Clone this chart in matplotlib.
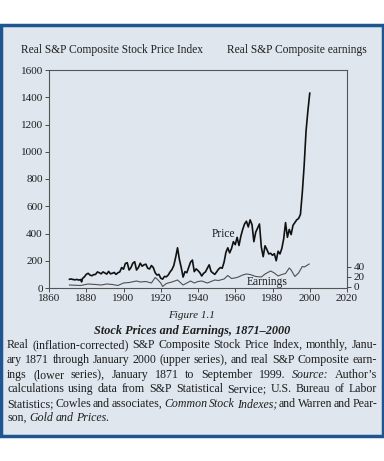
import matplotlib
matplotlib.use("Agg")
import matplotlib.pyplot as plt
from matplotlib.patches import Rectangle

# Real S&P Composite price index
price_years = [1871, 1872, 1873, 1874, 1875, 1876, 1877, 1877.5, 1878, 1879, 1880, 1881, 1882, 1883,
               1884, 1885, 1886, 1887, 1888, 1889, 1890, 1891, 1892, 1893, 1894, 1895, 1896,
               1897, 1898, 1899, 1900, 1901, 1902, 1903, 1904, 1905, 1906, 1907, 1908, 1909,
               1910, 1911, 1912, 1913, 1914, 1915, 1916, 1917, 1918, 1919, 1920, 1921, 1922,
               1923, 1924, 1925, 1926, 1927, 1928, 1929, 1930, 1931, 1932, 1933, 1934, 1935,
               1936, 1937, 1938, 1939, 1940, 1941, 1942, 1943, 1944, 1945, 1946, 1947, 1948,
               1949, 1950, 1951, 1952, 1953, 1954, 1955, 1956, 1957, 1958, 1959, 1960, 1961,
               1962, 1963, 1964, 1965, 1966, 1967, 1968, 1969, 1970, 1971, 1972, 1973, 1974,
               1975, 1976, 1977, 1978, 1979, 1980, 1981, 1982, 1983, 1984, 1985, 1986, 1987,
               1988, 1989, 1990, 1991, 1992, 1993, 1994, 1995, 1996, 1997, 1998, 1999, 2000]
price_vals = [64, 66, 62, 60, 63, 58, 62, 45, 70, 82, 100, 108, 95, 90,
              98, 100, 118, 112, 104, 118, 110, 102, 122, 104, 108, 114, 100,
              112, 118, 150, 138, 180, 186, 132, 150, 182, 193, 132, 150, 182,
              160, 170, 175, 145, 140, 165, 150, 112, 95, 100, 72, 65, 85,
              82, 95, 118, 135, 165, 225, 295, 210, 150, 80, 120, 112, 150,
              190, 205, 120, 140, 128, 112, 88, 108, 118, 145, 170, 122, 110,
              100, 118, 138, 150, 145, 190, 262, 295, 258, 290, 340, 318, 372,
              312, 380, 430, 470, 490, 448, 500, 465, 340, 410, 440, 470, 300,
              230, 310, 282, 250, 255, 240, 252, 200, 270, 250, 290, 360, 480,
              372, 430, 392, 460, 480, 500, 510, 540, 700, 900, 1150, 1300, 1430]

# Real S&P Composite earnings
earn_years = [1871, 1877, 1881, 1885, 1888, 1891, 1894, 1897, 1900, 1903, 1907, 1909, 1912,
              1915, 1917, 1918, 1920, 1921, 1923, 1926, 1929, 1932, 1934, 1936, 1938, 1940,
              1942, 1945, 1949, 1951, 1954, 1956, 1958, 1961, 1964, 1966, 1968, 1971, 1974,
              1976, 1979, 1981, 1983, 1985, 1987, 1989, 1990, 1992, 1994, 1996, 1997, 1998, 1999.7]
earn_vals = [4, 3, 6, 5, 4, 6, 5, 3, 8, 9, 12, 10, 11, 8, 19, 16, 8, 1, 7, 10, 14, 4, 8,
             12, 8, 11, 12, 8, 14, 13, 16, 23, 17, 19, 24, 26, 25, 21, 20, 26, 32, 28, 22,
             25, 27, 38, 34, 21, 28, 41, 40, 42, 46]

x_ticks = [1860, 1880, 1900, 1920, 1940, 1960, 1980, 2000, 2020]
price_ticks = [0, 200, 400, 600, 800, 1000, 1200, 1400, 1600]
earn_ticks = [0, 20, 40]

W, H = 384, 461
serif = ["Liberation Serif", "DejaVu Serif"]
plt.rcParams["font.family"] = serif
ink = "#1e1e1e"

fig = plt.figure(figsize=(W / 100, H / 100), dpi=100, facecolor="white")

# framed panel behind everything
fig.patches.append(Rectangle((1 / W, 25 / H), 382 / W, 411 / H, transform=fig.transFigure,
                             facecolor="#dfe6ee", edgecolor="#1f5591", linewidth=2.5,
                             zorder=-10))

ax = fig.add_axes([49 / W, 1 - 288 / H, 298 / W, 218 / H])
ax.patch.set_alpha(0)
ax.plot(price_years, price_vals, color="#111111", lw=1.2)
ax.set_xlim(1860, 2020)
ax.set_ylim(0, 1600)
ax.set_xticks(x_ticks)
ax.set_yticks(price_ticks)
ax.tick_params(labelsize=8, length=3, width=0.6, colors="#333333", labelcolor=ink, pad=1.5)
for s in ax.spines.values():
    s.set_color("#555555")
    s.set_linewidth(0.8)

ax2 = ax.twinx()
ax2.patch.set_alpha(0)
ax2.plot(earn_years, earn_vals, color="#505050", lw=0.8)
ax2.set_ylim(-2, 434)
ax2.set_yticks(earn_ticks)
ax2.tick_params(labelsize=8, length=3, width=0.6, colors="#333333", labelcolor=ink, pad=1.5)
for s in ax2.spines.values():
    s.set_visible(False)

ax.text(1960, 400, "Price", fontsize=8.3, color=ink, ha="right", va="center")
ax2.text(1977, 10, "Earnings", fontsize=8.3, color=ink, ha="center", va="center")

fig.text(21 / W, 1 - 50 / H, "Real S&P Composite Stock Price Index", fontsize=8.3,
         color=ink, va="center")
fig.text(227 / W, 1 - 50 / H, "Real S&P Composite earnings", fontsize=8.3,
         color=ink, va="center")

fig.text(0.5, 1 - 315 / H, "Figure 1.1", fontsize=8, style="italic", color=ink,
         ha="center", va="center")
fig.text(0.5, 1 - 331 / H, "Stock Prices and Earnings, 1871\u20132000", fontsize=8.8,
         style="italic", weight="bold", color=ink, ha="center", va="center")

caption = [
    [("Real (inflation-corrected) S&P Composite Stock Price Index, monthly, Janu-", False)],
    [("ary 1871 through January 2000 (upper series), and real S&P Composite earn-", False)],
    [("ings (lower series), January 1871 to September 1999.", False), ("Source:", True),
     ("Author\u2019s", False)],
    [("calculations using data from S&P Statistical Service; U.S. Bureau of Labor", False)],
    [("Statistics; Cowles and associates,", False), ("Common Stock Indexes;", True),
     ("and Warren and Pear-", False)],
    [("son,", False), ("Gold and Prices.", True)],
]
cap_y = [348, 363, 378, 392, 407, 421]  # baselines, px from top

renderer = fig.canvas.get_renderer()
x_left, x_right = 7, 377
for i, (segs, yy) in enumerate(zip(caption, cap_y)):
    words = []
    for txt, ital in segs:
        for w in txt.split(" "):
            words.append((w, ital))
    items = [fig.text(0, 1 - yy / H, w, fontsize=8.6, color=ink, va="baseline",
                      style="italic" if it else "normal") for w, it in words]
    widths = [t.get_window_extent(renderer).width for t in items]
    last = i == len(caption) - 1
    gap = 2.5 if last else max(1.8, (x_right - x_left - sum(widths)) / (len(items) - 1))
    x = x_left
    for t, w in zip(items, widths):
        t.set_x(x / W)
        x += w + gap

fig.savefig("out.png", dpi=100, facecolor="white")
